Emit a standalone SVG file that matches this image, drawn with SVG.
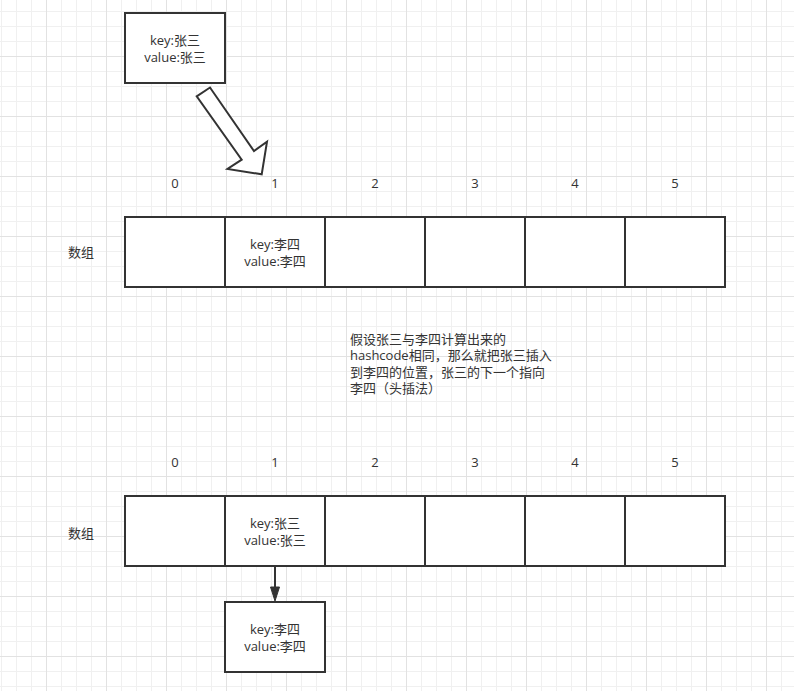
<svg xmlns="http://www.w3.org/2000/svg" width="794" height="691" viewBox="0 0 794 691">
  <style>
    .box { fill: #ffffff; stroke: #333333; stroke-width: 2; }
    .t { font-family: "Open Sans", "Noto Sans CJK SC", sans-serif; font-size: 13px; fill: #333333; dominant-baseline: central; }
    .c { text-anchor: middle; }
    .conn { stroke: #333333; stroke-width: 2; fill: none; }
  </style>
  <defs>
    <pattern id="grid" patternUnits="userSpaceOnUse" x="-14" y="-4" width="60" height="60">
      <rect x="15" y="0" width="1" height="60" fill="#f0f0f0"/>
      <rect x="30" y="0" width="1" height="60" fill="#f0f0f0"/>
      <rect x="45" y="0" width="1" height="60" fill="#f0f0f0"/>
      <rect x="0" y="15" width="60" height="1" fill="#f0f0f0"/>
      <rect x="0" y="30" width="60" height="1" fill="#f0f0f0"/>
      <rect x="0" y="45" width="60" height="1" fill="#f0f0f0"/>
      <rect x="0" y="0" width="1" height="60" fill="#e2e2e2"/>
      <rect x="0" y="0" width="60" height="1" fill="#e2e2e2"/>
    </pattern>
  </defs>

  <rect x="0" y="0" width="794" height="691" fill="#ffffff"/>
  <rect x="0" y="0" width="794" height="691" fill="url(#grid)"/>

  <!-- top new entry -->
  <g id="new-entry">
    <rect class="box" x="125" y="13" width="100" height="70"/>
    <text class="t c"><tspan x="175" y="39.5">key:张三</tspan><tspan x="175" y="56.5">value:张三</tspan></text>
  </g>

  <g id="block-arrow">
    <polygon class="box" points="196.7,96.3 210,87.5 254,151 267,141.7 261.7,174.3 227.5,169 241.7,159.7"/>
  </g>

  <!-- array 1 -->
  <g id="index-labels-1">
    <text class="t c" x="175" y="182.5">0</text>
    <text class="t c" x="275" y="182.5">1</text>
    <text class="t c" x="375" y="182.5">2</text>
    <text class="t c" x="475" y="182.5">3</text>
    <text class="t c" x="575" y="182.5">4</text>
    <text class="t c" x="675" y="182.5">5</text>
  </g>
  <g id="array-label-1">
    <text class="t c" x="81" y="252">数组</text>
  </g>
  <g id="array-1">
    <rect class="box" x="125" y="217" width="100" height="70"/>
    <rect class="box" x="225" y="217" width="100" height="70"/>
    <rect class="box" x="325" y="217" width="100" height="70"/>
    <rect class="box" x="425" y="217" width="100" height="70"/>
    <rect class="box" x="525" y="217" width="100" height="70"/>
    <rect class="box" x="625" y="217" width="100" height="70"/>
    <text class="t c"><tspan x="275" y="243.5">key:李四</tspan><tspan x="275" y="260.5">value:李四</tspan></text>
  </g>

  <!-- explanation -->
  <g id="explanation">
    <text class="t"><tspan x="350" y="338.5">假设张三与李四计算出来的</tspan><tspan x="350" y="355">hashcode相同，那么就把张三插入</tspan><tspan x="350" y="371.5">到李四的位置，张三的下一个指向</tspan><tspan x="350" y="388">李四（头插法）</tspan></text>
  </g>

  <!-- array 2 -->
  <g id="index-labels-2">
    <text class="t c" x="175" y="461.5">0</text>
    <text class="t c" x="275" y="461.5">1</text>
    <text class="t c" x="375" y="461.5">2</text>
    <text class="t c" x="475" y="461.5">3</text>
    <text class="t c" x="575" y="461.5">4</text>
    <text class="t c" x="675" y="461.5">5</text>
  </g>
  <g id="array-label-2">
    <text class="t c" x="81" y="533">数组</text>
  </g>
  <g id="array-2">
    <rect class="box" x="125" y="496" width="100" height="70"/>
    <rect class="box" x="225" y="496" width="100" height="70"/>
    <rect class="box" x="325" y="496" width="100" height="70"/>
    <rect class="box" x="425" y="496" width="100" height="70"/>
    <rect class="box" x="525" y="496" width="100" height="70"/>
    <rect class="box" x="625" y="496" width="100" height="70"/>
    <text class="t c"><tspan x="275" y="522.5">key:张三</tspan><tspan x="275" y="539.5">value:张三</tspan></text>
  </g>

  <g id="chained-entry">
    <rect class="box" x="225" y="602" width="100" height="70"/>
    <text class="t c"><tspan x="275" y="628.5">key:李四</tspan><tspan x="275" y="645.5">value:李四</tspan></text>
  </g>

  <g id="connectors">
    <path class="conn" d="M275,567 L275,590"/>
    <path d="M270.5,587 L275,601 L279.5,587 Z" fill="#333333" stroke="#333333" stroke-width="1"/>
  </g>
</svg>
